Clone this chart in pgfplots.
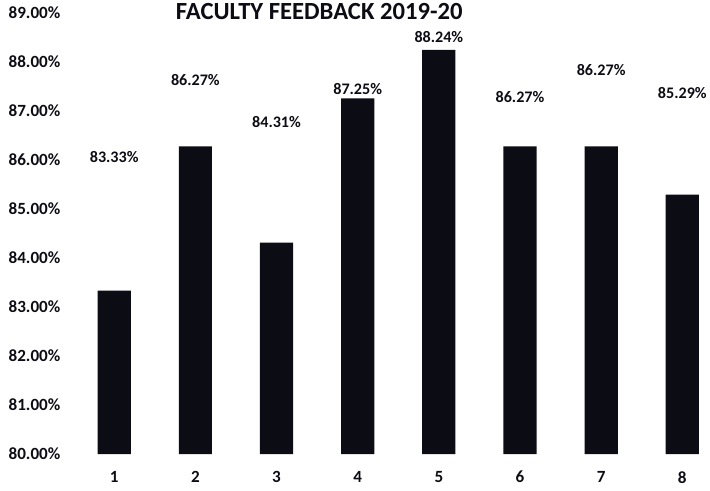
\documentclass[border=0pt]{standalone}
\usepackage{pgfplots}
\pgfplotsset{compat=1.18}
\usepackage{fontspec}
\setmainfont{Carlito}
\definecolor{barc}{RGB}{12,12,20}
\begin{document}
\begin{tikzpicture}
\begin{axis}[
  scale only axis,
  width=631pt, height=439pt,
  xmin=0.5, xmax=8.32,
  ymin=80, ymax=89,
  ytick={80,81,...,89},
  xtick={1,...,8},
  axis line style={draw=none},
  major tick length=0pt,
  /pgf/number format/assume math mode=true,
  ticklabel style={font=\fontsize{17}{20}\selectfont\bfseries, text=barc},
  yticklabel={\pgfmathprintnumber[fixed,fixed zerofill,precision=2]{\tick}\%},
  yticklabel style={anchor=east, xshift=-13pt, text width=60pt, align=right, inner xsep=0pt},
  xticklabel style={anchor=center, yshift=-23pt, minimum height=26pt},
  title={FACULTY FEEDBACK 2019-20},
  title style={at={(rel axis cs:0.387,1)}, anchor=center, yshift=-5pt,
    font=\fontsize{24.5}{28}\selectfont\bfseries, text=barc},
]
\addplot[ybar, bar width=33pt, fill=barc, draw=none] coordinates {
  (1,83.33) (2,86.27) (3,84.31) (4,87.25) (5,88.24) (6,86.27) (7,86.27) (8,85.29)};
\addplot[draw=none, mark=none, nodes near coords, point meta=explicit symbolic,
  every node near coord/.style={anchor=center, font=\fontsize{16}{19}\selectfont\bfseries, text=barc}]
  coordinates {
  (1,86.05) [83.33\%]
  (2,87.63) [86.27\%]
  (3,86.77) [84.31\%]
  (4,87.44) [87.25\%]
  (5,88.50) [88.24\%]
  (6,87.28) [86.27\%]
  (7,87.83) [86.27\%]
  (8,87.36) [85.29\%]
};
\end{axis}
\end{tikzpicture}
\end{document}
